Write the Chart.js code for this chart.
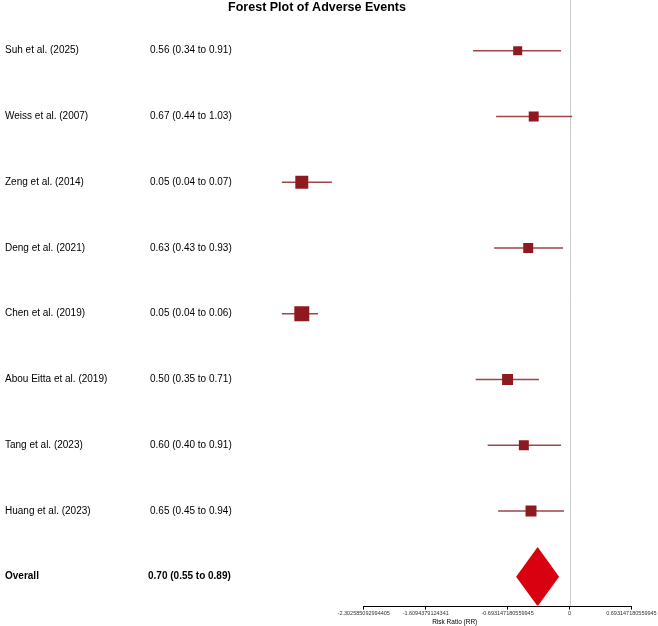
<!DOCTYPE html>
<html>
<head>
<meta charset="utf-8">
<script src="https://cdn.jsdelivr.net/npm/chart.js@4.4.1/dist/chart.umd.min.js"></script>
<style>
  html, body { margin: 0; padding: 0; background: #fff; }
  #wrap { width: 658px; height: 626px; position: relative; }
</style>
</head>
<body>
<div id="wrap"><canvas id="forest"></canvas></div>
<script>
// Data
const studies = ['Suh et al. (2025)', 'Weiss et al. (2007)', 'Zeng et al. (2014)', 'Deng et al. (2021)',
                 'Chen et al. (2019)', 'Abou Eitta et al. (2019)', 'Tang et al. (2023)', 'Huang et al. (2023)'];
const rr     = [0.56, 0.67, 0.05, 0.63, 0.05, 0.50, 0.60, 0.65];
const lower  = [0.34, 0.44, 0.04, 0.43, 0.04, 0.35, 0.40, 0.45];
const upper  = [0.91, 1.03, 0.07, 0.93, 0.06, 0.71, 0.91, 0.94];
const weights = [8.0, 9.8, 16.6, 9.8, 22.1, 11.9, 9.8, 11.9];
const overallLabel = 'Overall';
const overall = [0.70, 0.55, 0.89]; // RR, lower, upper
const tickRR = [0.1, 0.2, 0.5, 1, 2];
const tickLabels = ['-2.302585092994405', '-1.6094379124341', '-0.693147180559945', '0', '0.693147180559945'];

const FONT = "'Liberation Sans', Arial, sans-serif";
const boxColor = '#8e1a20';
const ciColor = '#a04448';
const diamondColor = '#d9000f';
const overallRow = studies.length;

const fmt = v => v.toFixed(2);
const rowText = (r, l, u) => fmt(r) + ' (' + fmt(l) + ' to ' + fmt(u) + ')';

// CI segments as one line, broken by NaN points
const ciData = [];
rr.forEach((v, i) => {
    ciData.push({ x: Math.log(lower[i]), y: i }, { x: Math.log(upper[i]), y: i }, { x: NaN, y: NaN });
});

const diamondData = [
    { x: Math.log(overall[1]), y: overallRow },
    { x: Math.log(overall[0]), y: overallRow - 0.45 },
    { x: Math.log(overall[2]), y: overallRow },
    { x: Math.log(overall[0]), y: overallRow + 0.45 },
    { x: Math.log(overall[1]), y: overallRow }
];

const forestText = {
    id: 'forestText',
    beforeDatasetsDraw(chart) {
        const { ctx, chartArea, scales: { x } } = chart;
        ctx.save();
        // no-effect line
        ctx.strokeStyle = '#cccccc';
        ctx.lineWidth = 1;
        const x0 = Math.round(x.getPixelForValue(0)) + 0.5;
        ctx.beginPath();
        ctx.moveTo(x0, 0);
        ctx.lineTo(x0, chartArea.bottom);
        ctx.stroke();
        // axis line between first and last tick
        ctx.strokeStyle = '#000';
        const yb = Math.round(chartArea.bottom) + 0.5;
        ctx.beginPath();
        ctx.moveTo(x.getPixelForValue(Math.log(tickRR[0])), yb);
        ctx.lineTo(x.getPixelForValue(Math.log(tickRR[tickRR.length - 1])), yb);
        ctx.stroke();
        ctx.restore();
    },
    afterDraw(chart) {
        const { ctx, scales: { y } } = chart;
        ctx.save();
        ctx.fillStyle = '#000';
        ctx.textBaseline = 'middle';
        ctx.textAlign = 'left';
        ctx.font = '10px ' + FONT;
        studies.forEach((s, i) => {
            const py = y.getPixelForValue(i);
            ctx.fillText(s, 5, py);
            ctx.fillText(rowText(rr[i], lower[i], upper[i]), 150, py);
        });
        ctx.font = 'bold 10px ' + FONT;
        const po = y.getPixelForValue(overallRow);
        ctx.fillText(overallLabel, 5, po);
        ctx.fillText(rowText(overall[0], overall[1], overall[2]), 148, po);
        // title
        ctx.font = 'bold 12.5px ' + FONT;
        ctx.textAlign = 'center';
        ctx.fillText('Forest Plot of Adverse Events', 317, 8);
        ctx.restore();
    }
};

new Chart(document.getElementById('forest'), {
    type: 'scatter',
    data: {
        datasets: [
            {
                label: 'Study RR',
                data: rr.map((v, i) => ({ x: Math.log(v), y: i })),
                pointStyle: 'rect',
                pointRadius: ctx => Math.sqrt(weights[ctx.dataIndex]) * 3.18 / Math.SQRT2,
                backgroundColor: boxColor,
                borderColor: boxColor,
                borderWidth: 0,
                order: 0
            },
            {
                type: 'line',
                label: '95% CI',
                data: ciData,
                showLine: true,
                spanGaps: false,
                pointRadius: 0,
                borderColor: ciColor,
                borderWidth: 1.5,
                order: 1
            },
            {
                type: 'line',
                label: 'Overall',
                data: diamondData,
                showLine: true,
                tension: 0,
                pointRadius: 0,
                borderWidth: 0,
                borderColor: diamondColor,
                backgroundColor: diamondColor,
                fill: 'shape',
                order: 0
            }
        ]
    },
    options: {
        responsive: true,
        maintainAspectRatio: false,
        animation: false,
        layout: { padding: { left: 262, right: 10, top: 0, bottom: 0 } },
        plugins: {
            legend: { display: false },
            tooltip: { enabled: false }
        },
        scales: {
            x: {
                type: 'linear',
                min: -3.441,
                max: 0.872,
                afterBuildTicks: scale => { scale.ticks = tickRR.map(v => ({ value: Math.log(v) })); },
                afterFit: scale => { scale.paddingLeft = 0; scale.paddingRight = 0; },
                border: { display: false },
                grid: { drawOnChartArea: false, drawTicks: true, tickLength: 4, color: '#000' },
                ticks: {
                    autoSkip: false, maxRotation: 0, padding: 1,
                    color: '#333', font: { family: FONT, size: 5.5 },
                    callback: (v, i) => tickLabels[i]
                },
                title: { display: true, text: 'Risk Ratio (RR)', color: '#000', font: { family: FONT, size: 6.5 }, padding: 0 }
            },
            y: {
                type: 'linear',
                display: false,
                reverse: true,
                min: -0.611,
                max: 8.44
            }
        }
    },
    plugins: [forestText]
});
</script>
</body>
</html>
